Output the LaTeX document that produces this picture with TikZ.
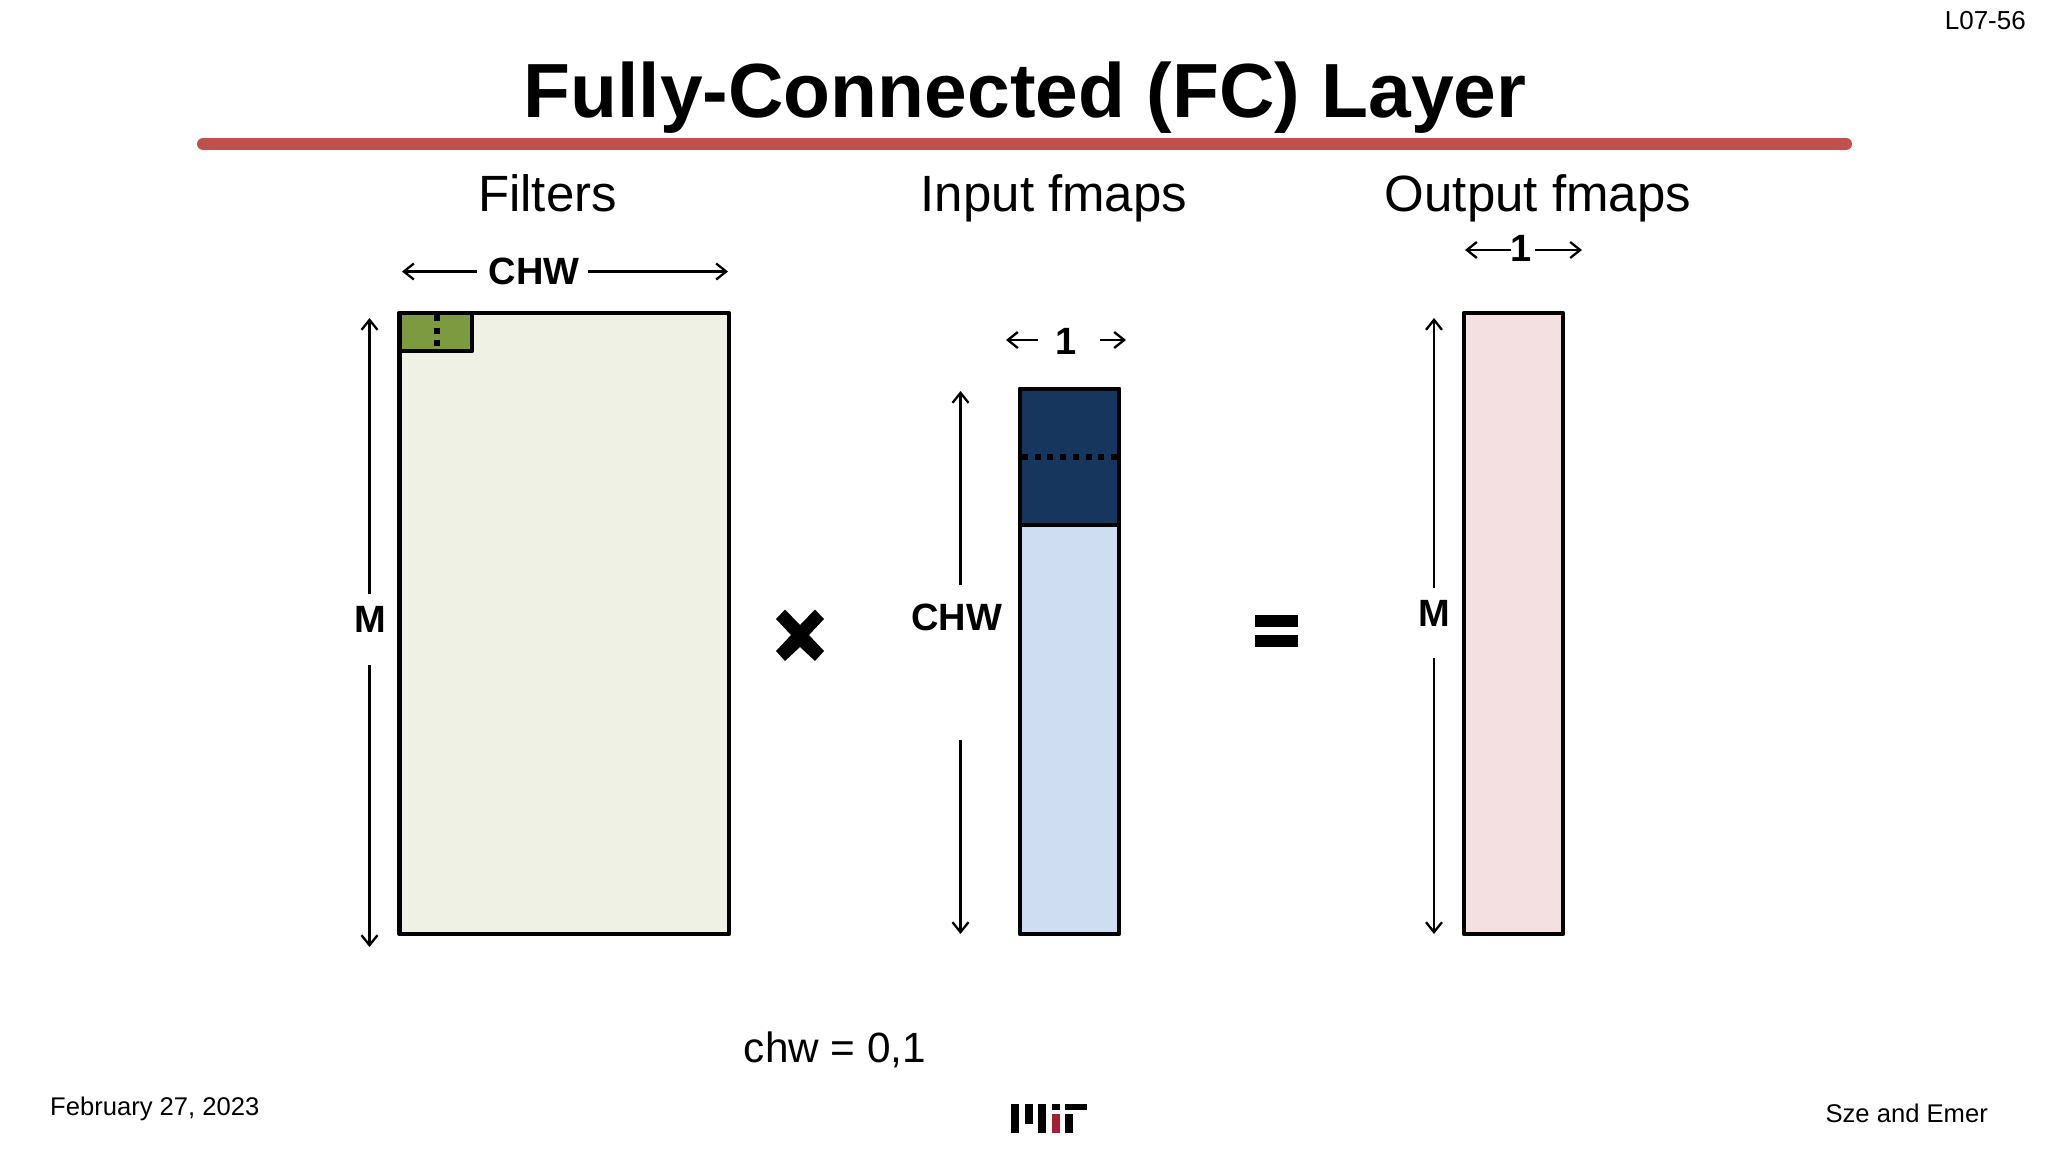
\documentclass[tikz,border=0pt]{standalone}
\usepackage{fontspec}
\setmainfont{Liberation Sans}
\usetikzlibrary{arrows.meta}
\definecolor{fillolive}{HTML}{EEF1E3}
\definecolor{fillgreen}{HTML}{7D9A40}
\definecolor{fillnavy}{HTML}{17365D}
\definecolor{filllight}{HTML}{CFDDF3}
\definecolor{fillpink}{HTML}{F4E0E0}
\definecolor{rulered}{HTML}{C0504D}
\definecolor{mitred}{HTML}{A31F34}
\newcommand{\fs}[1]{\fontsize{#1}{#1}\selectfont}
\tikzset{
  x=1pt,y=-1pt,
  cell/.style={draw=black,line width=4.6pt,line join=round},
  dimline/.style={draw=black,line width=2.3pt,->,>={Straight Barb[length=10pt,width=16pt,line width=2.3pt]}},
  dots/.style={draw=black,line width=6pt,dash pattern=on 6pt off 6.7pt},
  lab/.style={inner sep=0pt,anchor=base,font=\fs{51}},
  dim/.style={inner sep=0pt,font=\fs{38}\bfseries},
  foot/.style={inner sep=0pt,font=\fs{25.6}},
}
\begin{document}
\begin{tikzpicture}
\useasboundingbox (0,0) rectangle (2048,1152);
\fill[white] (0,0) rectangle (2048,1152);
\node[foot,anchor=east,font=\fs{26}] (page) at (2026,21) {L07-56};
\node[inner sep=0pt,font=\fs{76.8}\bfseries] (title) at (1025,98) {Fully-Connected (FC) Layer};
\draw[rulered,line width=12pt,line cap=round] (203,144) -- (1846,144);
\node[lab] (t1) at (547.5,211) {Filters};
\node[lab] (t2) at (1054,211) {Input fmaps};
\node[lab] (t3) at (1538,211) {Output fmaps};
% filters
\draw[cell,fill=fillolive] (399.5,313) rectangle (729,934);
\draw[cell,fill=fillgreen] (399.5,313) rectangle (472,351);
\coordinate (fa) at (436.5,315); \coordinate (fb) at (436.5,349);
\draw[dots] (fa) -- (fb);
\node[dim] (chw1) at (534,271) {CHW};
\coordinate (a1) at (402,271.5); \coordinate (a2) at (477,271.5);
\coordinate (a3) at (588,271.5); \coordinate (a4) at (728,271.5);
\draw[dimline] (a2) -- (a1);
\draw[dimline] (a3) -- (a4);
\node[dim] (m1) at (370,619) {M};
\coordinate (b1) at (369.5,318); \coordinate (b2) at (369.5,594);
\coordinate (b3) at (369.5,665); \coordinate (b4) at (369.5,947);
\draw[dimline] (b2) -- (b1);
\draw[dimline] (b3) -- (b4);
% times sign
\fill[black] (800,625) -- (785,609.5) -- (776,619) -- (791,635) -- (776,651) -- (785,661) -- (800,647) -- (815,661) -- (824,651) -- (809,635) -- (824,619) -- (815,609.5) -- cycle;
% input
\draw[cell,fill=filllight] (1020,389) rectangle (1119,934);
\draw[cell,fill=fillnavy] (1020,389) rectangle (1119,525);
\coordinate (ia) at (1022,457); \coordinate (ib) at (1117,457);
\draw[dots] (ia) -- (ib);
\node[dim] (one1) at (1066,341) {1};
\coordinate (c1) at (1006,340); \coordinate (c2) at (1038,340);
\coordinate (c3) at (1100,340); \coordinate (c4) at (1126,340);
\draw[dimline] (c2) -- (c1);
\draw[dimline] (c3) -- (c4);
\node[dim] (chw2) at (956.5,617) {CHW};
\coordinate (d1) at (960.5,391); \coordinate (d2) at (960.5,585);
\coordinate (d3) at (960.5,740); \coordinate (d4) at (960.5,934);
\draw[dimline] (d2) -- (d1);
\draw[dimline] (d3) -- (d4);
% equals
\fill[black] (1255,615) rectangle (1298,626.5);
\fill[black] (1255,634.5) rectangle (1298,646.5);
% output
\draw[cell,fill=fillpink] (1464,313) rectangle (1563,934);
\node[dim] (one2) at (1521,248) {1};
\coordinate (e1) at (1465,250); \coordinate (e2) at (1511,250);
\coordinate (e3) at (1535,250); \coordinate (e4) at (1582,250);
\draw[dimline] (e2) -- (e1);
\draw[dimline] (e3) -- (e4);
\node[dim] (m2) at (1434,613) {M};
\coordinate (g1) at (1434,318); \coordinate (g2) at (1434,588);
\coordinate (g3) at (1434,658); \coordinate (g4) at (1434,934);
\draw[dimline] (g2) -- (g1);
\draw[dimline] (g3) -- (g4);
% footer
\node[inner sep=0pt,font=\fs{42.3}] (eq) at (835,1050) {chw = 0,1};
\node[foot,anchor=west] (date) at (50,1109) {February 27, 2023};
\node[foot,anchor=east] (auth) at (1988,1113) {Sze and Emer};
% logo
\fill[black] (1011,1104) rectangle (1019,1133);
\fill[black] (1025,1104) rectangle (1033,1124);
\fill[black] (1038,1104) rectangle (1046,1133);
\fill[black] (1052,1104) rectangle (1060,1110);
\fill[mitred] (1052,1114) rectangle (1060,1133);
\fill[black] (1065,1104) rectangle (1087,1110);
\fill[black] (1065,1114) rectangle (1073,1133);
\end{tikzpicture}
\end{document}
